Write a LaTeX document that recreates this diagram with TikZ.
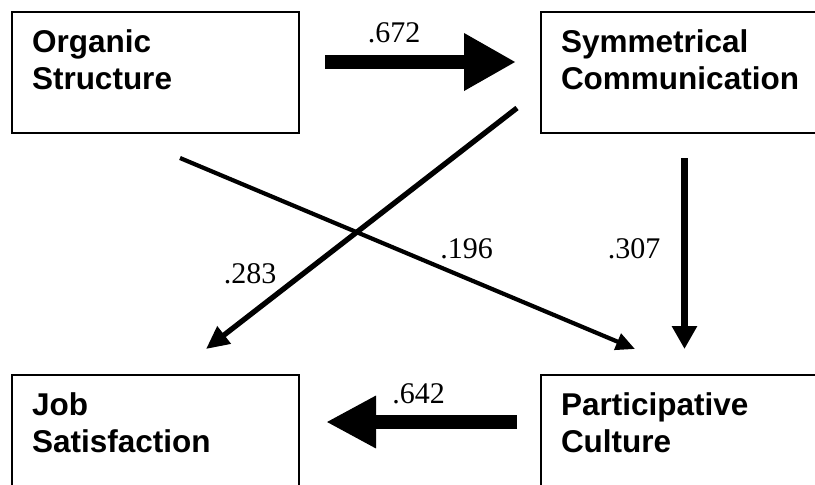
\documentclass[tikz,border=0pt]{standalone}
\usepackage{fontspec}
\setmainfont{Liberation Serif}
\newfontfamily\boxfont{Liberation Sans}
\usepackage{tikz}
\usetikzlibrary{arrows.meta,positioning}
\tikzstyle{box} = [draw, line width=2pt, inner xsep=20pt, inner ysep=17.5pt, font=\boxfont\bfseries\fontsize{31.5}{37}\selectfont]
\tikzstyle{weight} = [anchor=base, font=\fontsize{30}{36}\selectfont]
\tikzstyle{fatarrow} = [line width=14pt]
\tikzstyle{thinarrow} = [line width=4pt]
\newcommand{\boxtext}[1]{\parbox[t][86pt][t]{247pt}{\raggedright #1}}

\begin{document}
\begin{tikzpicture}[x=1pt, y=-1pt]
\useasboundingbox (0,0) rectangle (815,485);
\clip (0,0) rectangle (815,485);

% Constructs
\node[box] (org) at (155.5,72.5) {\boxtext{Organic\\Structure}};
\node[box, right=240pt of org] (sym) {\boxtext{Symmetrical\\Communication}};
\node[box, below=240pt of org] (job) {\boxtext{Job\\Satisfaction}};
\node[box, below=240pt of sym] (par) {\boxtext{Participative\\Culture}};

% Paths
\draw[fatarrow, -{Triangle[length=52pt,width=54pt]}, shorten <=25pt, shorten >=24pt] ([yshift=10.5pt]org.east) -- ([yshift=10.5pt]sym.west);
\draw[fatarrow, -{Triangle[length=50pt,width=49pt]}, shorten <=23pt, shorten >=26pt] ([yshift=13.5pt]par.west) -- ([yshift=13.5pt]job.east);
\draw[line width=7.8pt, -{Triangle[length=23pt,width=24pt]}, shorten <=24pt, shorten >=25pt] (sym.south) -- (sym.south |- par.north);
\draw[thinarrow, line width=5.3pt, -{Triangle[length=23pt,width=21pt]}] ([xshift=-23pt,yshift=26pt]sym.south west) -- ([xshift=-94pt,yshift=25pt]job.north east);
\draw[thinarrow, line width=4.2pt, -{Triangle[length=19pt,width=17pt]}] ([xshift=24.5pt,yshift=-24pt]org.south) -- ([xshift=95pt,yshift=25pt]par.north west);

% Coefficients
\node[weight] (w672) at (394,42) {.672};
\node[weight] (w642) at (418.5,403) {.642};
\node[weight] (w307) at (634,258) {.307};
\node[weight] (w196) at (466.5,258) {.196};
\node[weight] (w283) at (250,283) {.283};
\end{tikzpicture}
\end{document}
